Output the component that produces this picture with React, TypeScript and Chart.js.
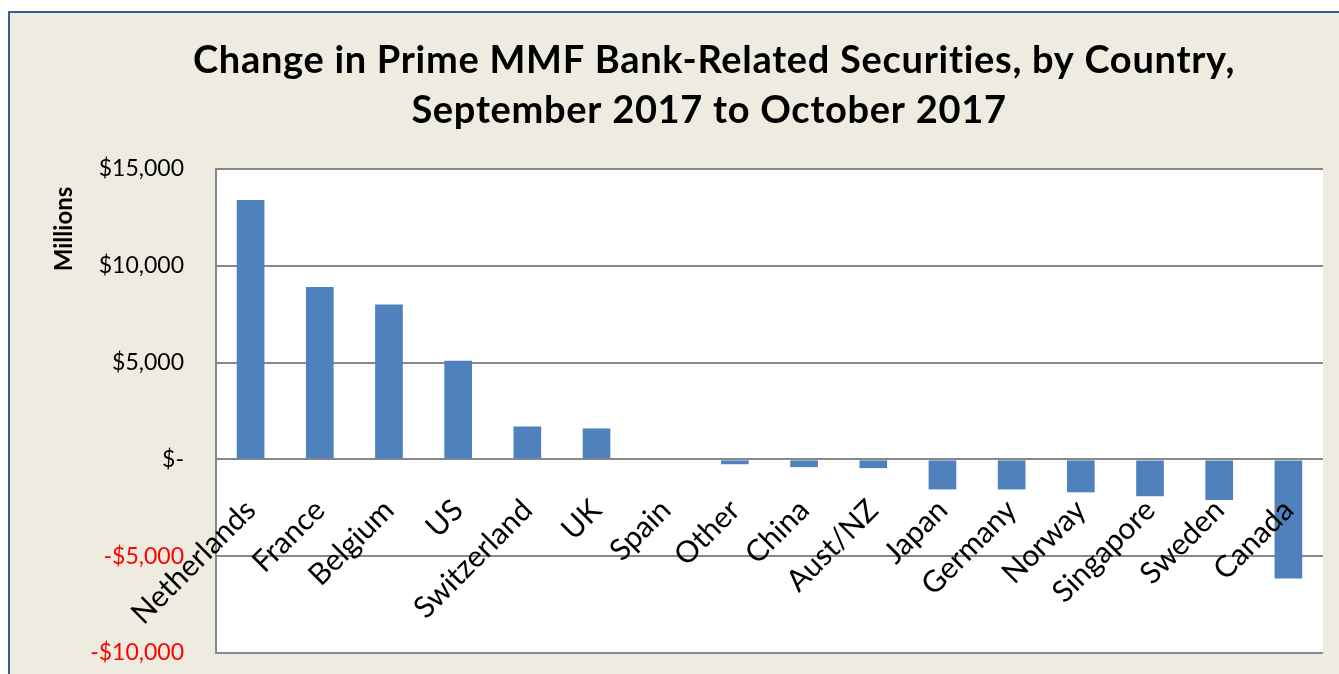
import React, { useEffect, useRef } from "react";
import { Chart, registerables } from "chart.js";

Chart.register(...registerables);

const countries = [
  "Netherlands", "France", "Belgium", "US", "Switzerland", "UK", "Spain", "Other",
  "China", "Aust/NZ", "Japan", "Germany", "Norway", "Singapore", "Sweden", "Canada",
];
const changeMillions = [
  13400, 8900, 8000, 5100, 1700, 1600, 0, -250,
  -400, -450, -1550, -1550, -1700, -1900, -2100, -6150,
];
const titleLines = [
  "Change in Prime MMF Bank-Related Securities, by Country,",
  "September 2017 to October 2017",
];
const yAxisTitle = "Millions";
const yMin = -10000;
const yMax = 15000;
const yStep = 5000;

function fmt(v: number): string {
  if (v === 0) return "$-";
  const s = Math.abs(v).toLocaleString("en-US");
  return v < 0 ? "-$" + s : "$" + s;
}

const plotBg = {
  id: "plotBg",
  beforeDraw(chart: any) {
    const { ctx, chartArea } = chart;
    ctx.save();
    ctx.fillStyle = "#FFFFFF";
    ctx.fillRect(chartArea.left, chartArea.top, chartArea.right - chartArea.left, chartArea.bottom - chartArea.top);
    ctx.restore();
  },
};

const texts = {
  id: "texts",
  afterDraw(chart: any) {
    const { ctx } = chart;
    ctx.save();
    ctx.fillStyle = "#000";
    ctx.textAlign = "center";
    ctx.textBaseline = "alphabetic";
    ctx.font = "bold 38px Lato";
    (ctx as any).letterSpacing = "0.7px";
    ctx.fillText(titleLines[0], 714, 73);
    ctx.fillText(titleLines[1], 709, 123);
    (ctx as any).letterSpacing = "0px";
    ctx.translate(64, 229);
    ctx.rotate(-Math.PI / 2);
    ctx.font = "bold 24px Lato";
    ctx.textBaseline = "middle";
    ctx.fillText(yAxisTitle, 0, 0);
    ctx.restore();
  },
};

export default function App() {
  const ref = useRef<HTMLCanvasElement>(null);
  useEffect(() => {
    if (!ref.current) return;
    const chart = new Chart(ref.current, {
      type: "bar",
      data: {
        labels: countries,
        datasets: [
          {
            data: changeMillions,
            backgroundColor: "#4F81BD",
            barPercentage: 0.4,
            categoryPercentage: 1,
          },
        ],
      },
      plugins: [plotBg, texts],
      options: {
        responsive: false,
        animation: false,
        layout: { padding: { left: 0, right: 16, top: 169, bottom: 21 } },
        plugins: {
          legend: { display: false },
          tooltip: { enabled: false },
          title: { display: false },
        },
        scales: {
          x: {
            position: { y: 0 } as any,
            afterFit(scale: any) {
              scale.paddingTop = 0;
              scale.paddingBottom = 0;
              scale.paddingLeft = 0;
              scale.paddingRight = 0;
            },
            grid: { display: false },
            border: { display: false },
            ticks: {
              z: 1,
              autoSkip: false,
              minRotation: 45,
              maxRotation: 45,
              color: "#000",
              padding: 25,
              font: { family: "Lato", size: 30 },
            },
          },
          y: {
            min: yMin,
            max: yMax,
            afterFit(scale: any) {
              scale.width = 216;
              scale.paddingTop = 0;
              scale.paddingBottom = 0;
            },
            grid: { color: "#888888", lineWidth: 2, drawTicks: false },
            border: { display: true, color: "#888888", width: 2 },
            ticks: {
              stepSize: yStep,
              padding: 32,
              font: { family: "Lato", size: 23 },
              color: (c: any) => (c.tick && c.tick.value < 0 ? "#FF0000" : "#000000"),
              callback: (v: any) => fmt(Number(v)),
            },
          },
        },
      },
    });
    return () => chart.destroy();
  }, []);

  return (
    <div style={{ position: "fixed", left: 0, top: 0, width: 1339, height: 674, background: "#FFFFFF", overflow: "hidden" }}>
      <div
        style={{
          position: "absolute",
          left: 8,
          top: 11,
          right: 0,
          bottom: 0,
          background: "#EEECE1",
          borderLeft: "2px solid #3B5E91",
          borderTop: "2px solid #3B5E91",
        }}
      />
      <canvas ref={ref} width={1339} height={674} style={{ position: "absolute", left: 0, top: 0, width: 1339, height: 674 }} />
    </div>
  );
}
